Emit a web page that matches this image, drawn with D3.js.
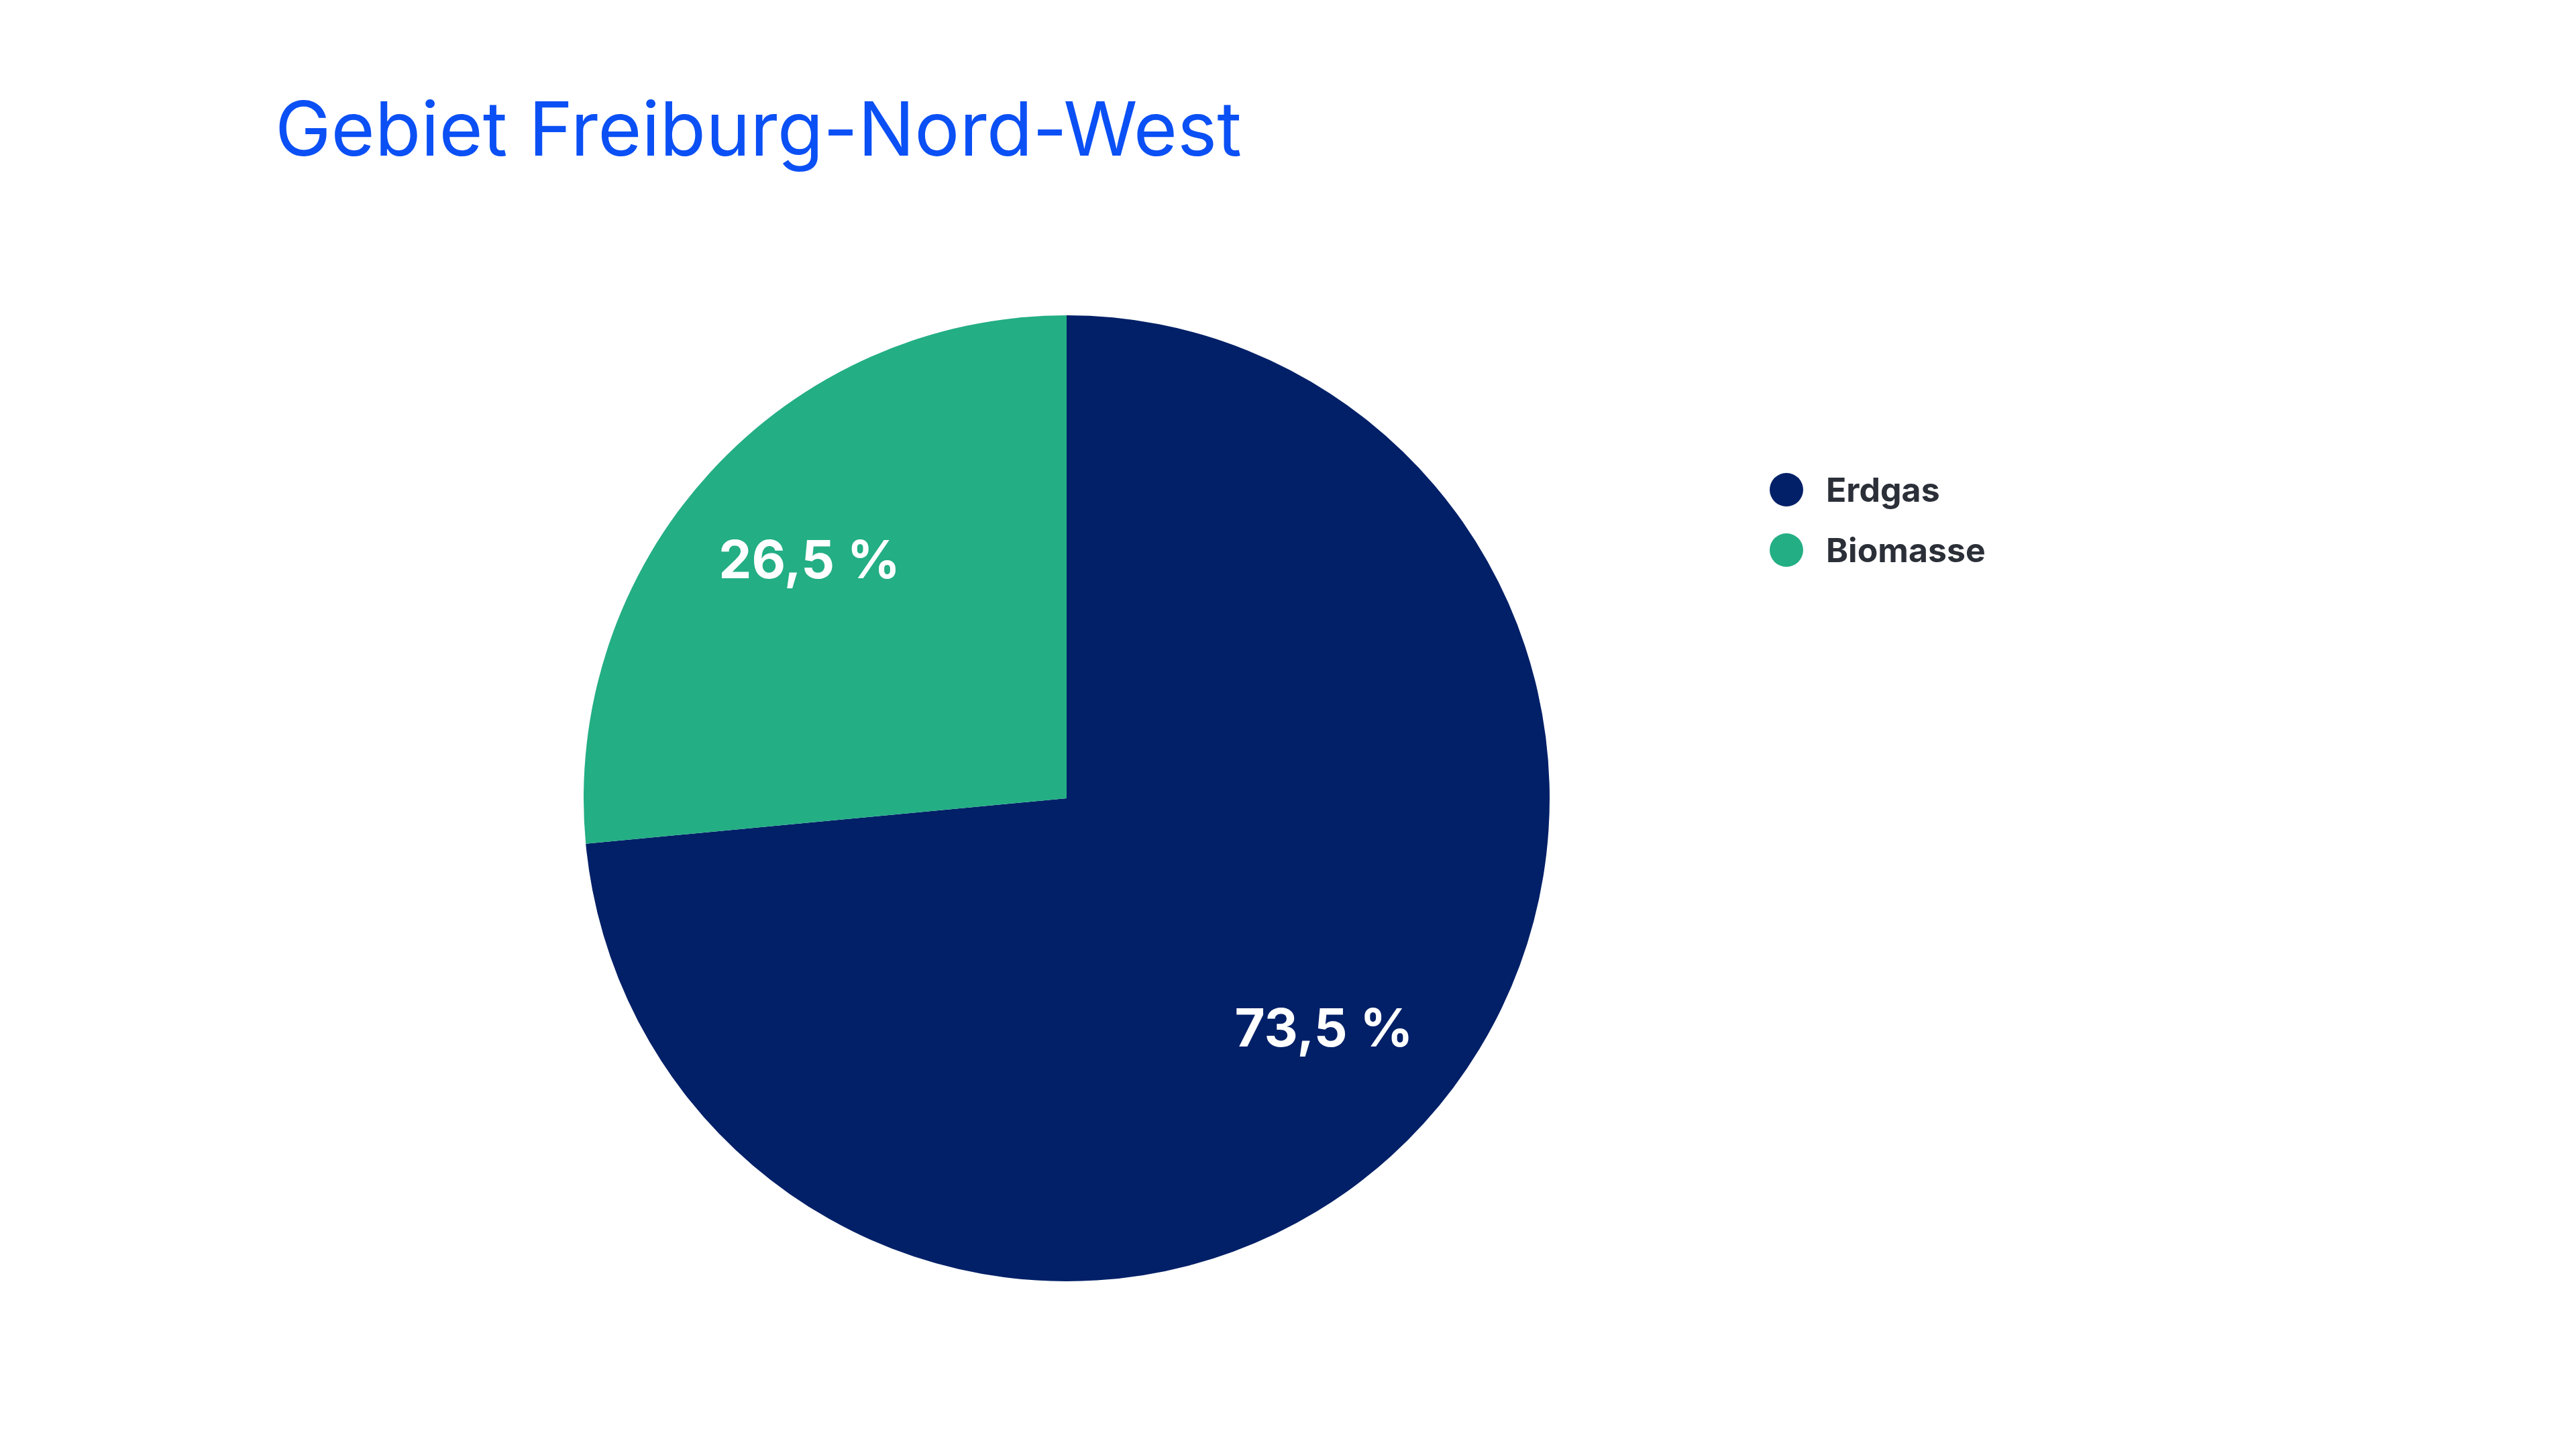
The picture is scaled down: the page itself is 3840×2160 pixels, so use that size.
<!DOCTYPE html>
<html><head><meta charset="utf-8">
<script src="https://cdn.jsdelivr.net/npm/d3@7"></script>
<style>body{margin:0;background:#fff}</style></head>
<body><svg id="c" width="3840" height="2160"></svg>
<script>
const categories = ["Erdgas", "Biomasse"];
const values = [73.5, 26.5];
const labels = ["73,5 %", "26,5 %"];
const colors = ["#022068", "#23ae84"];

const svg = d3.select("#c");
svg.append("text").attr("x", 410).attr("y", 232).attr("font-family", "Inter, sans-serif")
  .attr("font-size", 112).attr("fill", "#0b50f5").text("Gebiet Freiburg-Nord-West");

const cx = 1590, cy = 1190, r = 720;
const data = categories.map((c, i) => ({c, v: values[i], l: labels[i], col: colors[i]}));
const pie = d3.pie().value(d => d.v).sort(null);
const arc = d3.arc().innerRadius(0).outerRadius(r);
const g = svg.append("g").attr("transform", `translate(${cx},${cy})`);
const arcs = pie(data);
g.selectAll("path").data(arcs).join("path").attr("d", arc).attr("fill", d => d.data.col);
const la = d3.arc().innerRadius(r * 0.72).outerRadius(r * 0.72);
g.selectAll("text").data(arcs).join("text")
  .attr("transform", d => `translate(${la.centroid(d)})`)
  .attr("text-anchor", "middle").attr("dominant-baseline", "middle")
  .attr("font-family", "Inter, sans-serif").attr("font-weight", 700).attr("font-size", 78)
  .attr("fill", "#fff").text(d => d.data.l);

const lg = svg.append("g");
data.forEach((d, i) => {
  const y = 730 + i * 90;
  lg.append("circle").attr("cx", 2663).attr("cy", y).attr("r", 25).attr("fill", d.col);
  lg.append("text").attr("x", 2722).attr("y", y).attr("dominant-baseline", "central")
    .attr("font-family", "Inter, sans-serif").attr("font-weight", 700).attr("font-size", 50)
    .attr("fill", "#2b2f38").text(d.c);
});
</script></body></html>
